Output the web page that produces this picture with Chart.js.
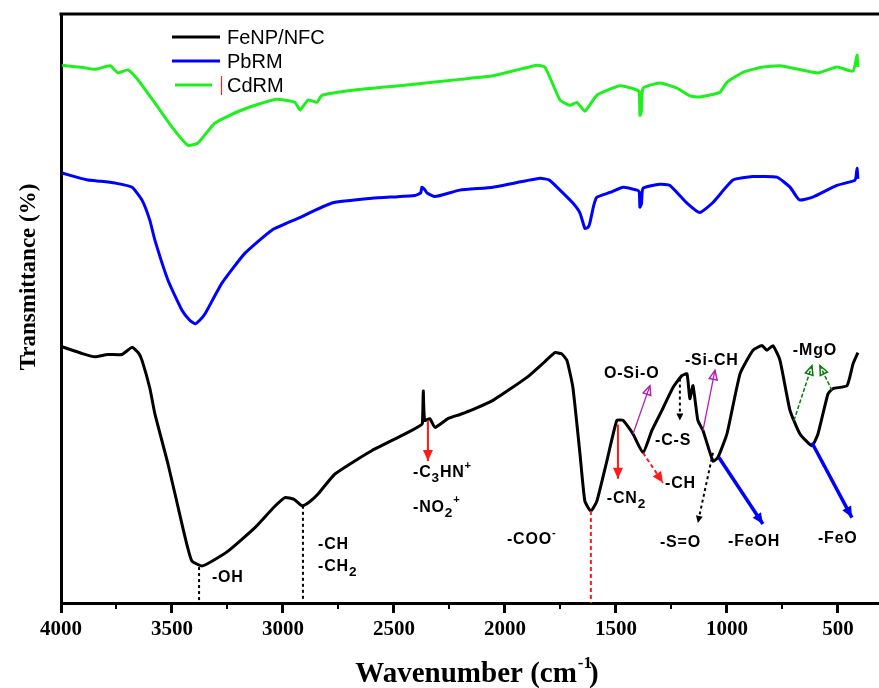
<!DOCTYPE html>
<html>
<head>
<meta charset="utf-8">
<title>FTIR spectra</title>
<script src="https://cdn.jsdelivr.net/npm/chart.js@4.4.0/dist/chart.umd.min.js"></script>
<style>
  body { margin: 0; background: #fff; }
  canvas { display: block; }
</style>
</head>
<body>
<canvas id="ftir" width="879" height="688"></canvas>
<script>
// FeNP/NFC spectrum: wavenumber (cm-1) and transmittance
const fenpWn = [3995, 3900, 3847, 3790, 3725, 3680, 3650, 3635, 3600, 3577, 3518, 3455, 3430, 3410, 3365, 3320, 3248, 3126, 3040, 2991, 2950, 2914, 2880, 2842, 2766, 2599, 2450, 2383, 2372, 2368, 2362, 2338, 2315, 2257, 2203, 2135, 2054, 1901, 1820, 1775, 1745, 1721, 1694, 1662, 1640, 1613, 1586, 1541, 1496, 1468, 1423, 1378, 1338, 1293, 1243, 1203, 1180, 1167, 1153, 1131, 1108, 1063, 1041, 1000, 941, 883, 842, 820, 793, 761, 716, 671, 617, 590, 545, 522, 459, 432, 410]
const fenpT = [43.5, 42.3, 41.8, 42.2, 42.2, 43.4, 42.4, 41.2, 36.5, 32.1, 23.6, 13.4, 9.5, 7.1, 6.3, 7.1, 8.8, 12.8, 16.3, 17.9, 17.6, 16.5, 17.2, 18.5, 21.9, 25.9, 28.7, 30.1, 30.5, 36.0, 31.0, 31.3, 29.8, 31.3, 32.0, 33.0, 34.4, 38.3, 41.0, 42.5, 42.3, 41.2, 36.6, 25.3, 17.3, 15.6, 17.3, 24.1, 31.0, 31.0, 28.7, 25.5, 29.3, 32.7, 36.6, 38.6, 38.9, 34.7, 36.9, 31.0, 29.3, 24.1, 24.7, 28.7, 38.9, 42.9, 43.7, 42.9, 43.7, 41.2, 32.7, 28.7, 26.7, 28.7, 35.5, 36.4, 36.9, 40.6, 42.5]

// PbRM spectrum
const pbWn = [3995, 3930, 3878, 3820, 3757, 3680, 3635, 3600, 3577, 3518, 3455, 3420, 3396, 3375, 3351, 3275, 3171, 3050, 2932, 2779, 2599, 2405, 2380, 2374, 2362, 2351, 2315, 2203, 2054, 1842, 1800, 1752, 1694, 1662, 1640, 1625, 1617, 1600, 1586, 1527, 1468, 1405, 1395, 1392, 1385, 1378, 1302, 1257, 1180, 1122, 1063, 973, 883, 775, 716, 685, 671, 613, 505, 423, 414, 410]
const pbT = [73.0, 72.3, 71.8, 71.6, 71.3, 70.6, 68.4, 65.0, 61.6, 54.8, 49.7, 48.0, 47.4, 48.0, 49.1, 54.3, 59.4, 63.3, 65.3, 67.9, 68.7, 69.2, 69.6, 70.6, 70.2, 69.6, 69.0, 70.1, 70.6, 72.1, 71.8, 70.1, 67.9, 66.2, 63.6, 63.8, 64.6, 67.5, 68.9, 69.7, 70.6, 70.1, 69.8, 67.2, 67.8, 70.4, 71.1, 70.9, 67.9, 66.3, 68.0, 71.8, 72.4, 72.3, 70.6, 68.9, 68.4, 68.9, 70.9, 71.8, 73.8, 72.0]

// CdRM spectrum
const cdWn = [3995, 3900, 3847, 3779, 3743, 3698, 3653, 3577, 3500, 3428, 3383, 3306, 3185, 3036, 2946, 2923, 2887, 2847, 2824, 2676, 2450, 2203, 2054, 1856, 1820, 1752, 1707, 1676, 1640, 1586, 1482, 1405, 1395, 1392, 1385, 1378, 1302, 1225, 1167, 1122, 1032, 1000, 928, 838, 761, 703, 590, 505, 432, 414, 410]
const cdT = [91.3, 90.9, 90.6, 91.2, 90.0, 90.5, 88.8, 84.9, 80.8, 77.7, 78.1, 81.5, 83.7, 85.5, 85.0, 83.7, 85.4, 85.0, 86.2, 87.1, 87.9, 88.9, 89.5, 91.3, 91.0, 85.4, 84.5, 85.0, 83.5, 86.2, 87.8, 87.1, 86.8, 82.8, 83.5, 87.4, 88.3, 87.4, 86.1, 85.9, 86.7, 88.4, 90.1, 91.0, 91.2, 90.8, 90.0, 91.0, 90.3, 93.0, 91.0]

const seriesNames = ["FeNP/NFC", "PbRM", "CdRM"]
const seriesColors = ["#000000", "#0000ff", "#1ef01e"]

// x tick positions (labels only on the 500 steps)
const xTicks = [4000, 3750, 3500, 3250, 3000, 2750, 2500, 2250, 2000, 1750, 1500, 1250, 1000, 750, 500]

// band assignments: text placed at (wavenumber, transmittance)
// "_x" = subscript, "^x" = superscript
const bandLabels = [
  { text: "-OH", wn: 3320, t: 4.3, color: "#000" },
  { text: "-CH", wn: 2842, t: 10.0, color: "#000" },
  { text: "-CH_2", wn: 2842, t: 6.1, color: "#000" },
  { text: "-C_3HN^+", wn: 2414, t: 22.1, color: "#000" },
  { text: "-NO_2^+", wn: 2414, t: 16.2, color: "#000" },
  { text: "-COO^-", wn: 1991, t: 10.7, color: "#000" },
  { text: "-CN_2", wn: 1541, t: 17.7, color: "#000" },
  { text: "O-Si-O", wn: 1554, t: 38.9, color: "#000" },
  { text: "-C-S", wn: 1324, t: 27.6, color: "#000" },
  { text: "-Si-CH", wn: 1189, t: 41.2, color: "#000" },
  { text: "-CH", wn: 1279, t: 20.2, color: "#000" },
  { text: "-S=O", wn: 1302, t: 10.2, color: "#000" },
  { text: "-FeOH", wn: 995, t: 10.5, color: "#000" },
  { text: "-MgO", wn: 703, t: 42.9, color: "#000" },
  { text: "-FeO", wn: 590, t: 10.9, color: "#000" }
]

// pointer lines: from -> to in (wavenumber, transmittance)
const bandMarks = [
  { from: [3378, 6.1], to: [3378, 0], color: "#000", dash: [3, 3], width: 2, head: "" },
  { from: [2910, 16.5], to: [2910, 0.5], color: "#000", dash: [3, 3], width: 2, head: "" },
  { from: [1613, 15.6], to: [1613, 0], color: "#ff1a1a", dash: [4, 3], width: 2, head: "" },
  { from: [2347, 31.0], to: [2347, 24.1], color: "#ff1a1a", dash: [], width: 2, head: "fill" },
  { from: [1491, 30.3], to: [1491, 21.1], color: "#ff1a1a", dash: [], width: 2, head: "fill" },
  { from: [1378, 25.5], to: [1288, 20.4], color: "#ff1a1a", dash: [4, 3], width: 2, head: "fill" },
  { from: [1423, 28.7], to: [1347, 36.9], color: "#b020b0", dash: [], width: 1.3, head: "open" },
  { from: [1108, 29.3], to: [1054, 39.5], color: "#b020b0", dash: [], width: 1.3, head: "open" },
  { from: [1212, 38.1], to: [1212, 31.0], color: "#000", dash: [3, 3], width: 2, head: "dot" },
  { from: [1063, 25.5], to: [1131, 13.6], color: "#000", dash: [3, 3], width: 2, head: "dot" },
  { from: [1036, 24.7], to: [838, 13.4], color: "#0000ff", dash: [], width: 3.5, head: "fill" },
  { from: [617, 27.2], to: [437, 14.5], color: "#0000ff", dash: [], width: 3.5, head: "fill" },
  { from: [698, 31.0], to: [617, 40.3], color: "#0a7a0a", dash: [4, 2], width: 1.5, head: "open" },
  { from: [527, 36.1], to: [581, 40.3], color: "#0a7a0a", dash: [4, 2], width: 1.5, head: "open" }
]

function toPoints(wn, t) {
  return wn.map((w, i) => ({ x: w, y: t[i] }))
}

function drawRichText(ctx, text, x, y, size) {
  let cx = x
  for (let i = 0; i < text.length; i++) {
    let ch = text[i]
    let dy = 0
    let fs = size
    if ((ch == "_" || ch == "^") && i + 1 < text.length) {
      dy = ch == "_" ? size * 0.35 : -size * 0.45
      fs = size * 0.85
      i++
      ch = text[i]
      if (ch == "+" || ch == "-") fs = size * 0.7
    }
    ctx.font = "bold " + fs + "px 'Liberation Sans', Arial, sans-serif"
    ctx.fillText(ch, cx, y + dy)
    cx += ctx.measureText(ch).width + 0.8
  }
}

function drawArrow(ctx, x1, y1, x2, y2, m) {
  ctx.save()
  ctx.strokeStyle = m.color
  ctx.fillStyle = m.color
  ctx.lineWidth = m.width
  ctx.setLineDash(m.dash)
  ctx.beginPath()
  ctx.moveTo(x1, y1)
  ctx.lineTo(x2, y2)
  ctx.stroke()
  ctx.setLineDash([])
  const ang = Math.atan2(y2 - y1, x2 - x1)
  if (m.head == "fill" || m.head == "open") {
    const len = m.head == "fill" ? 11 : 9
    const wid = m.head == "fill" ? 5 : 4
    ctx.beginPath()
    ctx.moveTo(x2, y2)
    ctx.lineTo(x2 - len * Math.cos(ang) + wid * Math.sin(ang), y2 - len * Math.sin(ang) - wid * Math.cos(ang))
    ctx.lineTo(x2 - len * Math.cos(ang) - wid * Math.sin(ang), y2 - len * Math.sin(ang) + wid * Math.cos(ang))
    ctx.closePath()
    ctx.lineWidth = 1.5
    m.head == "fill" ? ctx.fill() : ctx.stroke()
  }
  if (m.head == "dot") {
    ctx.beginPath()
    ctx.moveTo(x2, y2)
    ctx.lineTo(x2 - 7 * Math.cos(ang) + 3.5 * Math.sin(ang), y2 - 7 * Math.sin(ang) - 3.5 * Math.cos(ang))
    ctx.lineTo(x2 - 7 * Math.cos(ang) - 3.5 * Math.sin(ang), y2 - 7 * Math.sin(ang) + 3.5 * Math.cos(ang))
    ctx.closePath()
    ctx.fill()
  }
  ctx.restore()
}

// frame, minor ticks, legend, band labels and axis titles
const extras = {
  id: "extras",
  afterDraw(chart) {
    const ctx = chart.ctx
    const a = chart.chartArea
    const x = chart.scales.x
    const y = chart.scales.y
    ctx.save()

    ctx.strokeStyle = "#000"
    ctx.lineWidth = 3
    ctx.beginPath()
    ctx.moveTo(a.left - 1.5, a.top)
    ctx.lineTo(a.right, a.top)
    ctx.stroke()

    ctx.lineWidth = 2
    x.ticks.forEach(tk => {
      if (tk.value % 500 != 0) {
        const xp = Math.round(x.getPixelForValue(tk.value))
        ctx.beginPath()
        ctx.moveTo(xp, a.bottom)
        ctx.lineTo(xp, a.bottom + 6)
        ctx.stroke()
      }
    })

    // legend
    const lx = a.left + 111
    const rows = [a.top + 23, a.top + 47, a.top + 71]
    ctx.font = "20px 'Liberation Sans', Arial, sans-serif"
    ctx.textBaseline = "middle"
    seriesNames.forEach((name, i) => {
      ctx.strokeStyle = seriesColors[i]
      ctx.lineWidth = 3
      ctx.beginPath()
      ctx.moveTo(i == 2 ? lx + 3 : lx, rows[i])
      ctx.lineTo(i == 2 ? lx + 40 : lx + 48, rows[i])
      ctx.stroke()
      ctx.fillStyle = "#000"
      ctx.fillText(name, lx + 55, rows[i] + 1)
    })
    ctx.strokeStyle = "#ff2020"
    ctx.lineWidth = 1.2
    ctx.beginPath()
    ctx.moveTo(lx + 49.5, rows[2] - 9)
    ctx.lineTo(lx + 49.5, rows[2] + 10)
    ctx.stroke()

    // band pointers and assignments
    bandMarks.forEach(m => {
      drawArrow(ctx, x.getPixelForValue(m.from[0]), y.getPixelForValue(m.from[1]),
        x.getPixelForValue(m.to[0]), y.getPixelForValue(m.to[1]), m)
    })
    ctx.textBaseline = "middle"
    ctx.textAlign = "left"
    bandLabels.forEach(l => {
      ctx.fillStyle = l.color
      drawRichText(ctx, l.text, x.getPixelForValue(l.wn), y.getPixelForValue(l.t), 16)
    })

    // axis titles
    ctx.fillStyle = "#000"
    ctx.textBaseline = "alphabetic"
    ctx.font = "bold 29px 'Liberation Serif', 'Times New Roman', serif"
    const main = "Wavenumber (cm"
    const w1 = ctx.measureText(main).width
    ctx.font = "bold 17px 'Liberation Serif', 'Times New Roman', serif"
    const w2 = ctx.measureText("-1").width
    ctx.font = "bold 29px 'Liberation Serif', 'Times New Roman', serif"
    const w3 = ctx.measureText(")").width
    let tx = 478 - (w1 + w2 + w3) / 2
    const ty = a.bottom + 79
    ctx.fillText(main, tx, ty)
    ctx.font = "bold 17px 'Liberation Serif', 'Times New Roman', serif"
    ctx.fillText("-1", tx + w1 + 1, ty - 14)
    ctx.font = "bold 29px 'Liberation Serif', 'Times New Roman', serif"
    ctx.fillText(")", tx + w1 + w2 - 2, ty)

    ctx.translate(29, a.top + 263)
    ctx.rotate(-Math.PI / 2)
    ctx.textAlign = "center"
    ctx.textBaseline = "middle"
    ctx.font = "bold 23px 'Liberation Serif', 'Times New Roman', serif"
    ctx.fillText("Transmittance (%)", 0, 0)
    ctx.restore()
  }
}

const datasets = [
  { label: seriesNames[0], data: toPoints(fenpWn, fenpT) },
  { label: seriesNames[1], data: toPoints(pbWn, pbT) },
  { label: seriesNames[2], data: toPoints(cdWn, cdT) }
].map((d, i) => ({
  ...d,
  borderColor: seriesColors[i],
  borderWidth: 3,
  pointRadius: 0,
  tension: 0.15,
  fill: false
}))

new Chart(document.getElementById("ftir"), {
  type: "line",
  data: { datasets: datasets },
  options: {
    responsive: false,
    animation: false,
    devicePixelRatio: 1,
    layout: { padding: { top: 14, right: 0, left: 0, bottom: 0 } },
    plugins: {
      legend: { display: false },
      tooltip: { enabled: false }
    },
    scales: {
      x: {
        type: "linear",
        reverse: true,
        min: 315,
        max: 4000,
        afterBuildTicks: scale => {
          scale.ticks = xTicks.map(v => ({ value: v }))
        },
        afterFit: scale => { scale.height = 85 },
        ticks: {
          autoSkip: false,
          maxRotation: 0,
          padding: 4,
          color: "#000",
          font: { family: "'Liberation Serif', 'Times New Roman', serif", size: 21, weight: "bold" },
          callback: v => (v % 500 == 0 ? String(v) : "")
        },
        grid: {
          display: true,
          drawOnChartArea: false,
          drawTicks: true,
          tickLength: 10,
          tickWidth: 3,
          tickColor: c => (c.tick && c.tick.value % 500 == 0 ? "#000" : "rgba(0,0,0,0)")
        },
        border: { display: true, color: "#000", width: 3 },
        title: { display: false }
      },
      y: {
        min: 0,
        max: 100,
        afterFit: scale => { scale.width = 61 },
        ticks: { display: false },
        grid: { display: false },
        border: { display: true, color: "#000", width: 3 },
        title: { display: false }
      }
    }
  },
  plugins: [extras]
})
</script>
</body>
</html>
